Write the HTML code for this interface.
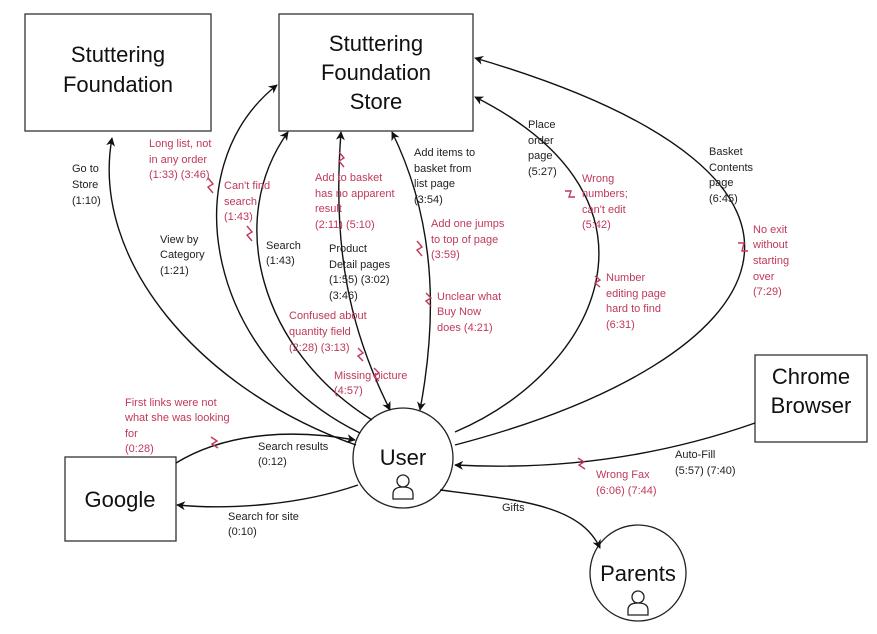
<!DOCTYPE html>
<html><head><meta charset="utf-8"><style>
html,body{margin:0;padding:0;background:#fff;}
svg{display:block;font-family:"Liberation Sans","DejaVu Sans",sans-serif;}
.b{fill:#222;font-size:11px;}
.r{fill:#c0395a;font-size:11px;}
.t{fill:#111;font-size:22px;text-anchor:middle;}
.l{fill:none;stroke:#111;stroke-width:1.4;}
.z{fill:none;stroke:#c0395a;stroke-width:1.4;}
</style></head><body>
<svg width="877" height="634" viewBox="0 0 877 634" xmlns="http://www.w3.org/2000/svg">
<defs><marker id="a" viewBox="0 0 10 10" refX="9" refY="5" markerWidth="9" markerHeight="9" orient="auto-start-reverse" markerUnits="userSpaceOnUse"><path d="M0,0 L10,5 L0,10 L3,5z" fill="#111"/></marker></defs>
<rect x="25" y="14" width="186" height="117" fill="#fff" stroke="#333" stroke-width="1.3"/>
<text class="t" x="118" y="62">Stuttering</text><text class="t" x="118" y="92">Foundation</text>
<rect x="279" y="14" width="194" height="117" fill="#fff" stroke="#333" stroke-width="1.3"/>
<text class="t" x="376" y="51">Stuttering</text><text class="t" x="376" y="80">Foundation</text><text class="t" x="376" y="109">Store</text>
<rect x="755" y="355" width="112" height="87" fill="#fff" stroke="#333" stroke-width="1.3"/>
<text class="t" x="811" y="384">Chrome</text><text class="t" x="811" y="413">Browser</text>
<rect x="65" y="457" width="111" height="84" fill="#fff" stroke="#333" stroke-width="1.3"/>
<text class="t" x="120" y="507">Google</text>
<circle cx="403" cy="458" r="50" fill="#fff" stroke="#222" stroke-width="1.3"/>
<text class="t" x="403" y="465">User</text>
<circle cx="638" cy="573" r="48" fill="#fff" stroke="#222" stroke-width="1.3"/>
<text class="t" x="638" y="581">Parents</text>
<g fill="none" stroke="#222" stroke-width="1.3">
<circle cx="403" cy="481" r="6"/><path d="M393,499 v-5 q0,-7 10,-7 q10,0 10,7 v5z"/>
<circle cx="638" cy="597" r="6"/><path d="M628,615 v-5 q0,-7 10,-7 q10,0 10,7 v5z"/>
</g>
<path class="l" marker-end="url(#a)" d="M356,445 C200,390 90,260 112,138"/>
<path class="l" marker-end="url(#a)" d="M360,433 C210,360 170,170 277,85"/>
<path class="l" marker-end="url(#a)" d="M372,420 C260,350 225,220 288,132"/>
<path class="l" marker-start="url(#a)" marker-end="url(#a)" d="M341,132 C332,250 350,330 390,410"/>
<path class="l" marker-start="url(#a)" marker-end="url(#a)" d="M392,132 C440,230 435,330 420,410"/>
<path class="l" marker-end="url(#a)" d="M455,432 C600,370 680,200 475,97"/>
<path class="l" marker-end="url(#a)" d="M455,445 C780,360 890,180 475,58"/>
<path class="l" marker-end="url(#a)" d="M755,423 C650,460 550,470 455,465"/>
<path class="l" marker-end="url(#a)" d="M176,463 C230,430 300,430 355,440"/>
<path class="l" marker-end="url(#a)" d="M358,485 C300,505 230,510 177,505"/>
<path class="l" marker-end="url(#a)" d="M440,490 C520,500 580,505 600,548"/>
<g class="z">
<path d="M208,178 l5,6 l-5,3 l5,6"/><path d="M247,226 l5,6 l-5,3 l5,6"/>
<path d="M339,152 l5,6 l-5,3 l5,6"/><path d="M358,348 l5,5 l-5,3 l5,5"/>
<path d="M374,368 l5,5 l-5,3 l5,5"/><path d="M417,241 l5,6 l-5,3 l5,6"/>
<path d="M426,293 l5,5 l-5,3 l5,5"/><path d="M565,191 l6,0 l-2,6 l6,0"/>
<path d="M595,276 l5,4 l-5,3 l5,4"/><path d="M738,243 l6,0 l-2,8 l6,0"/>
<path d="M211,437 l6,4 l-5,3 l6,4"/><path d="M578,458 l6,4 l-5,3 l6,4"/>
</g>
<text class="b"><tspan x="72" y="172">Go to</tspan><tspan x="72" y="188">Store</tspan><tspan x="72" y="204">(1:10)</tspan></text>
<text class="r"><tspan x="149" y="147">Long list, not</tspan><tspan x="149" y="163">in any order</tspan><tspan x="149" y="178">(1:33) (3:46)</tspan></text>
<text class="r"><tspan x="224" y="189">Can't find</tspan><tspan x="224" y="205">search</tspan><tspan x="224" y="220">(1:43)</tspan></text>
<text class="b"><tspan x="160" y="243">View by</tspan><tspan x="160" y="258">Category</tspan><tspan x="160" y="274">(1:21)</tspan></text>
<text class="b"><tspan x="266" y="249">Search</tspan><tspan x="266" y="264">(1:43)</tspan></text>
<text class="r"><tspan x="315" y="181">Add to basket</tspan><tspan x="315" y="197">has no apparent</tspan><tspan x="315" y="212">result</tspan><tspan x="315" y="228">(2:11) (5:10)</tspan></text>
<text class="b"><tspan x="329" y="252">Product</tspan><tspan x="329" y="268">Detail pages</tspan><tspan x="329" y="283">(1:55) (3:02)</tspan><tspan x="329" y="299">(3:46)</tspan></text>
<text class="r"><tspan x="289" y="319">Confused about</tspan><tspan x="289" y="335">quantity field</tspan><tspan x="289" y="351">(2:28) (3:13)</tspan></text>
<text class="r"><tspan x="334" y="379">Missing picture</tspan><tspan x="334" y="394">(4:57)</tspan></text>
<text class="b"><tspan x="414" y="156">Add items to</tspan><tspan x="414" y="172">basket from</tspan><tspan x="414" y="187">list page</tspan><tspan x="414" y="203">(3:54)</tspan></text>
<text class="r"><tspan x="431" y="227">Add one jumps</tspan><tspan x="431" y="243">to top of page</tspan><tspan x="431" y="258">(3:59)</tspan></text>
<text class="r"><tspan x="437" y="300">Unclear what</tspan><tspan x="437" y="315">Buy Now</tspan><tspan x="437" y="331">does (4:21)</tspan></text>
<text class="b"><tspan x="528" y="128">Place</tspan><tspan x="528" y="144">order</tspan><tspan x="528" y="159">page</tspan><tspan x="528" y="175">(5:27)</tspan></text>
<text class="r"><tspan x="582" y="182">Wrong</tspan><tspan x="582" y="197">numbers;</tspan><tspan x="582" y="213">can't edit</tspan><tspan x="582" y="228">(5:42)</tspan></text>
<text class="r"><tspan x="606" y="281">Number</tspan><tspan x="606" y="297">editing page</tspan><tspan x="606" y="312">hard to find</tspan><tspan x="606" y="328">(6:31)</tspan></text>
<text class="b"><tspan x="709" y="155">Basket</tspan><tspan x="709" y="171">Contents</tspan><tspan x="709" y="186">page</tspan><tspan x="709" y="202">(6:45)</tspan></text>
<text class="r"><tspan x="753" y="233">No exit</tspan><tspan x="753" y="248">without</tspan><tspan x="753" y="264">starting</tspan><tspan x="753" y="280">over</tspan><tspan x="753" y="295">(7:29)</tspan></text>
<text class="r"><tspan x="125" y="406">First links were not</tspan><tspan x="125" y="421">what she was looking</tspan><tspan x="125" y="437">for</tspan><tspan x="125" y="452">(0:28)</tspan></text>
<text class="b"><tspan x="258" y="450">Search results</tspan><tspan x="258" y="465">(0:12)</tspan></text>
<text class="b"><tspan x="228" y="520">Search for site</tspan><tspan x="228" y="535">(0:10)</tspan></text>
<text class="b"><tspan x="675" y="458">Auto-Fill</tspan><tspan x="675" y="474">(5:57) (7:40)</tspan></text>
<text class="r"><tspan x="596" y="478">Wrong Fax</tspan><tspan x="596" y="494">(6:06) (7:44)</tspan></text>
<text class="b" x="502" y="511">Gifts</text>
</svg>
</body></html>
